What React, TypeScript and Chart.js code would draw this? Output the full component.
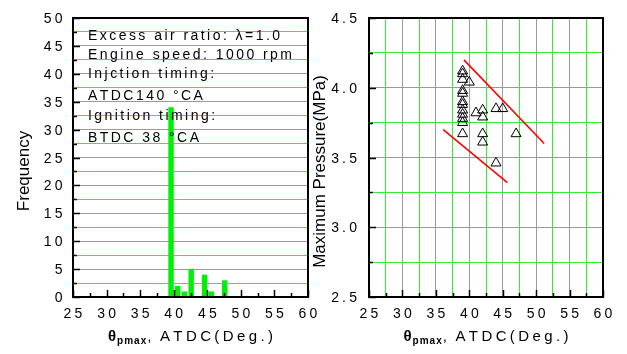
import { useEffect, useRef } from 'react';
import { Chart, registerables } from 'chart.js';

Chart.register(...registerables);

const FONT = '"Liberation Sans", Arial, Helvetica, sans-serif';
const GRID_GRAY = '#9a9a9a';
const GRID_GREEN = '#33ee33';
const BAR_GREEN = '#00f000';
const WIDTH = 627;
const HEIGHT = 354;

// Histogram of the crank angle at peak pressure
const binCenters = [39.6, 40.6, 41.6, 42.6, 44.6, 45.6, 47.6];
const frequencies = [34, 2, 1, 5, 4, 1, 3];

// Peak pressure against the crank angle at which it occurs
const peakAngles = [39, 39, 39, 39, 39, 39, 39, 39, 39, 39, 39, 39, 40, 41, 42, 42, 42, 42, 44, 45, 47, 44];
const peakPressures = [4.12, 4.1, 4.06, 3.98, 3.96, 3.9, 3.88, 3.84, 3.81, 3.78, 3.75, 3.67, 4.04, 3.82, 3.84, 3.79, 3.67, 3.61, 3.85, 3.85, 3.67, 3.46];

// Band enclosing the scatter
const upperBoundX = [39.2, 51.2];
const upperBoundY = [4.2, 3.6];
const lowerBoundX = [36.1, 45.7];
const lowerBoundY = [3.7, 3.32];

// Axis labels
const angleTicks = ['25', '30', '35', '40', '45', '50', '55', '60'];
const frequencyTicks = ['0', '5', '10', '15', '20', '25', '30', '35', '40', '45', '50'];
const pressureTicks = ['2.5', '3.0', '3.5', '4.0', '4.5'];

const conditionLines = [
  'Excess air ratio: λ=1.0',
  'Engine speed: 1000 rpm',
  'Injction timing:',
  'ATDC140 °CA',
  'Ignition timing:',
  'BTDC 38 °CA',
];
const conditionBaselines = [39.5, 58.5, 77.5, 99.5, 119.5, 141.5];

const isMultiple = (v: number, step: number) => Math.abs(v / step - Math.round(v / step)) < 1e-6;

function spacedText(
  ctx: CanvasRenderingContext2D,
  text: string,
  x: number,
  y: number,
  spacing: number,
  align: 'left' | 'center' | 'right',
  draw = true
) {
  const chars = Array.from(text);
  const widths = chars.map((c) => ctx.measureText(c).width);
  const total = widths.reduce((a, b) => a + b, 0) + spacing * (chars.length - 1);
  if (!draw) return total;
  let cx = align === 'left' ? x : align === 'center' ? x - total / 2 : x - total;
  ctx.textAlign = 'left';
  chars.forEach((c, i) => {
    ctx.fillText(c, cx, y);
    cx += widths[i] + spacing;
  });
  return total;
}

function drawAngleTitle(ctx: CanvasRenderingContext2D, centerX: number, baseline: number) {
  const parts = [
    { text: 'θ', font: `bold 15px ${FONT}`, sp: 0, dy: 0 },
    { text: 'pmax', font: `bold 10px ${FONT}`, sp: 1, dy: 3 },
    { text: ',', font: `15px ${FONT}`, sp: 0, dy: 0 },
    { text: ' ATDC(Deg.)', font: `15px ${FONT}`, sp: 3.4, dy: 0 },
  ];
  const gaps = [1, 1, 1, 0];
  let total = 0;
  parts.forEach((p, i) => {
    ctx.font = p.font;
    total += spacedText(ctx, p.text, 0, 0, p.sp, 'left', false) + gaps[i];
  });
  let x = centerX - total / 2;
  ctx.textBaseline = 'alphabetic';
  parts.forEach((p, i) => {
    ctx.font = p.font;
    x += spacedText(ctx, p.text, x, baseline + p.dy, p.sp, 'left') + gaps[i];
  });
}

function drawVerticalTitle(ctx: CanvasRenderingContext2D, text: string, x: number, cy: number) {
  ctx.save();
  ctx.translate(x, cy);
  ctx.rotate(-Math.PI / 2);
  ctx.font = `17px ${FONT}`;
  ctx.textAlign = 'center';
  ctx.textBaseline = 'alphabetic';
  ctx.fillText(text, 0, 0);
  ctx.restore();
}

// Inward tick marks, frame and all axis text
function makeFramePlugin(kind: 'hist' | 'scatter') {
  return {
    id: 'frame-' + kind,
    afterDatasetsDraw(chart: any) {
      const ctx: CanvasRenderingContext2D = chart.ctx;
      const { left, right, top, bottom } = chart.chartArea;
      const xs = chart.scales.x;
      const ys = chart.scales.y;
      ctx.save();
      ctx.strokeStyle = '#000';
      ctx.lineWidth = 1.5;
      // bottom ticks every 2.5 deg
      for (let v = 25; v <= 60 + 1e-9; v += 2.5) {
        const px = Math.round(xs.getPixelForValue(v)) + 0.5;
        const len = isMultiple(v, 5) ? 7 : 4;
        ctx.beginPath();
        ctx.moveTo(px, bottom);
        ctx.lineTo(px, bottom - len);
        ctx.stroke();
      }
      // left ticks
      const yMin = kind === 'hist' ? 0 : 2.5;
      const yMax = kind === 'hist' ? 50 : 4.5;
      const yStep = kind === 'hist' ? 2.5 : 0.25;
      const yMajor = kind === 'hist' ? 5 : 0.5;
      for (let v = yMin; v <= yMax + 1e-9; v += yStep) {
        const py = Math.round(ys.getPixelForValue(v)) + 0.5;
        const len = isMultiple(v, yMajor) ? 7 : 4;
        ctx.beginPath();
        ctx.moveTo(left, py);
        ctx.lineTo(left + len, py);
        ctx.stroke();
      }
      // frame
      ctx.lineWidth = 2;
      ctx.strokeRect(left, top, right - left, bottom - top);

      ctx.fillStyle = '#000';
      ctx.textBaseline = 'alphabetic';
      ctx.font = `14px ${FONT}`;
      angleTicks.forEach((t) => {
        const px = xs.getPixelForValue(Number(t));
        spacedText(ctx, t, px, bottom + 21, 3.2, 'center');
      });
      const yLabels = kind === 'hist' ? frequencyTicks : pressureTicks;
      const labelRight = kind === 'hist' ? left - 10.5 : left - 12;
      yLabels.forEach((t) => {
        const py = ys.getPixelForValue(Number(t));
        spacedText(ctx, t, labelRight, py + 5, 3.2, 'right');
      });

      drawAngleTitle(ctx, (left + right) / 2, bottom + 44);

      if (kind === 'hist') {
        drawVerticalTitle(ctx, 'Frequency', 28.5, 171);
        ctx.font = `14px ${FONT}`;
        conditionLines.forEach((line, i) => {
          spacedText(ctx, line, left + 15, conditionBaselines[i], 2.45, 'left');
        });
      } else {
        drawVerticalTitle(ctx, 'Maximum Pressure(MPa)', left - 44, 171.5);
      }
      ctx.restore();
    },
  };
}

function gridColor(step: number) {
  return (c: any) => (isMultiple(c.tick.value, step) ? GRID_GRAY : GRID_GREEN);
}

const canvasStyle = { position: 'absolute' as const, left: 0, top: 0 };

function HistogramChart() {
  const ref = useRef<HTMLCanvasElement>(null);
  useEffect(() => {
    const chart = new Chart(ref.current!, {
      type: 'bar',
      data: {
        datasets: [
          {
            data: binCenters.map((x, i) => ({ x, y: frequencies[i] })),
            backgroundColor: BAR_GREEN,
            borderWidth: 0,
            barPercentage: 0.9,
            categoryPercentage: 0.9,
          },
        ],
      },
      options: {
        responsive: false,
        animation: false,
        events: [],
        layout: { padding: { left: 0, right: WIDTH - 308, top: 18, bottom: 0 }, autoPadding: false },
        plugins: { legend: { display: false }, tooltip: { enabled: false } },
        scales: {
          x: {
            type: 'linear',
            min: 25,
            max: 60,
            offset: false,
            ticks: { display: false, stepSize: 2.5 },
            grid: { display: false, offset: false },
            border: { display: false },
            afterFit: (s: any) => {
              s.height = 57;
            },
          },
          y: {
            type: 'linear',
            min: 0,
            max: 50,
            ticks: { display: false, stepSize: 2.5 },
            grid: { color: gridColor(5), lineWidth: 1, drawTicks: false },
            border: { display: false },
            afterFit: (s: any) => {
              s.width = 73;
            },
          },
        },
      } as any,
      plugins: [makeFramePlugin('hist')],
    });
    return () => chart.destroy();
  }, []);
  return <canvas ref={ref} width={WIDTH} height={HEIGHT} style={canvasStyle} />;
}

function PressureChart() {
  const ref = useRef<HTMLCanvasElement>(null);
  useEffect(() => {
    const bound = (xs: number[], ys: number[]) => ({
      data: xs.map((x, i) => ({ x, y: ys[i] })),
      showLine: true,
      borderColor: '#ff0000',
      borderWidth: 1.6,
      pointRadius: 0,
      fill: false,
    });
    const chart = new Chart(ref.current!, {
      type: 'scatter',
      data: {
        datasets: [
          {
            data: peakAngles.map((x, i) => ({ x, y: peakPressures[i] })),
            pointStyle: 'triangle',
            pointRadius: 5.8,
            pointBorderWidth: 1,
            pointBorderColor: '#000',
            pointBackgroundColor: 'rgba(0,0,0,0)',
          },
          bound(upperBoundX, upperBoundY),
          bound(lowerBoundX, lowerBoundY),
        ],
      },
      options: {
        responsive: false,
        animation: false,
        events: [],
        layout: { padding: { left: 0, right: WIDTH - 603, top: 18, bottom: 0 }, autoPadding: false },
        plugins: { legend: { display: false }, tooltip: { enabled: false } },
        scales: {
          x: {
            type: 'linear',
            min: 25,
            max: 60,
            ticks: { display: false, stepSize: 2.5 },
            grid: { color: gridColor(5), lineWidth: 1, drawTicks: false },
            border: { display: false },
            afterFit: (s: any) => {
              s.height = 57;
            },
          },
          y: {
            type: 'linear',
            min: 2.5,
            max: 4.5,
            ticks: { display: false, stepSize: 0.25 },
            grid: { color: gridColor(0.5), lineWidth: 1, drawTicks: false },
            border: { display: false },
            afterFit: (s: any) => {
              s.width = 369;
            },
          },
        },
      } as any,
      plugins: [makeFramePlugin('scatter')],
    });
    return () => chart.destroy();
  }, []);
  return <canvas ref={ref} width={WIDTH} height={HEIGHT} style={canvasStyle} />;
}

export default function App() {
  return (
    <div style={{ position: 'absolute', left: 0, top: 0, width: WIDTH, height: HEIGHT, background: '#fff' }}>
      <HistogramChart />
      <PressureChart />
    </div>
  );
}
